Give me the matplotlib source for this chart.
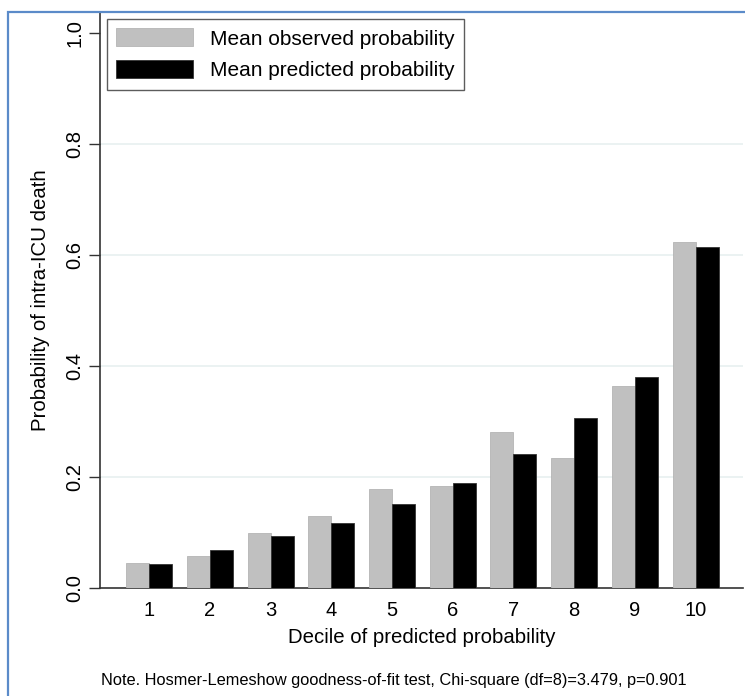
import numpy as np
import matplotlib
matplotlib.use('Agg')
import matplotlib.pyplot as plt
from matplotlib.patches import Rectangle

plt.rcParams['font.family'] = ['Liberation Sans', 'DejaVu Sans']

# calibration by decile of predicted risk
deciles = [1, 2, 3, 4, 5, 6, 7, 8, 9, 10]
observed = [0.045, 0.057, 0.100, 0.130, 0.179, 0.184, 0.282, 0.234, 0.364, 0.623]
predicted = [0.043, 0.068, 0.094, 0.118, 0.151, 0.190, 0.241, 0.306, 0.380, 0.615]
yticks = [0.0, 0.2, 0.4, 0.6, 0.8, 1.0]

fig = plt.figure(figsize=(7.45, 6.96), dpi=100)
ax = fig.add_axes([100/745, 1-588/696, 643/745, 576/696])

x = np.array(deciles)
w = 0.379
ax.bar(x - w/2, observed, w, color='#c0c0c0', edgecolor='#b4b4b4', linewidth=0.6,
       label='Mean observed probability', zorder=3)
ax.bar(x + w/2, predicted, w, color='black', edgecolor='#333333', linewidth=0.6,
       label='Mean predicted probability', zorder=3)

ax.set_xlim(0.19, 10.78)
ax.set_ylim(0, 1.038)
ax.set_xticks(deciles)
ax.set_xticklabels([str(d) for d in deciles], fontsize=14.5)
ax.tick_params(axis='x', length=0, pad=9)
ax.set_yticks(yticks)
ax.set_yticklabels(['%.1f' % v for v in yticks], fontsize=14.5, rotation=90, va='center')
ax.tick_params(axis='y', length=8, width=1, color='#333333', pad=3)
for v in yticks[1:-1]:
    ax.axhline(v, color='#e8f0f0', linewidth=1.2, zorder=1)

for s in ['top', 'right']:
    ax.spines[s].set_visible(False)
for s in ['left', 'bottom']:
    ax.spines[s].set_color('#333333')
    ax.spines[s].set_linewidth(1.2)

ax.set_xlabel('Decile of predicted probability', fontsize=14.7, labelpad=6)
ax.set_ylabel('Probability of intra-ICU death', fontsize=14.7, labelpad=11.5)

leg = ax.legend(loc='upper left', bbox_to_anchor=(107/745, 1-19/696),
                bbox_transform=fig.transFigure, fontsize=15, frameon=True,
                fancybox=False, handlelength=3.7, handleheight=0.95,
                handletextpad=0.8, labelspacing=0.55, borderpad=0.45,
                borderaxespad=0)
leg.get_frame().set_edgecolor('#333333')
leg.get_frame().set_linewidth(1.0)

fig.text(394/745, 1-680/696,
         'Note. Hosmer-Lemeshow goodness-of-fit test, Chi-square (df=8)=3.479, p=0.901',
         ha='center', va='center', fontsize=11.75)

# outer frame
fig.patches.append(Rectangle((8/745, -0.1), 1.2, 1-11.5/696+0.1,
                             transform=fig.transFigure, fill=False,
                             edgecolor='#5b8bc9', linewidth=1.6))

fig.savefig('out.png', dpi=100)
